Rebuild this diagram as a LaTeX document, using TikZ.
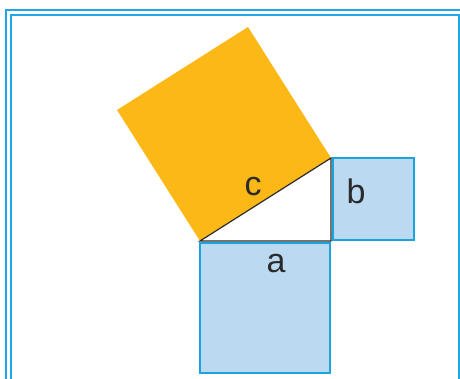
\documentclass[tikz,border=0pt]{standalone}
\usepackage{fontspec}
\setmainfont{Liberation Sans}
\usetikzlibrary{calc}
\definecolor{squareorange}{HTML}{FBB817}
\definecolor{squarefill}{HTML}{BBDAF2}
\definecolor{squareline}{HTML}{1AA3DD}
\definecolor{frameline}{HTML}{1FA8E3}
\definecolor{legline}{HTML}{2B2B2B}
\tikzset{
  framestyle/.style={draw=frameline, line width=2pt},
  legsquare/.style={fill=squarefill, draw=squareline, line width=2pt},
  sidelabel/.style={inner sep=0pt, text=legline}
}
\begin{document}
\begin{tikzpicture}[x=1pt,y=-1pt]
    \useasboundingbox (0,0) rectangle (460,379);
    \clip (0,0) rectangle (460,379);
    % double frame
    \draw [framestyle] (5.5,10.5) rectangle (475,395);
    \draw [framestyle] (10.5,15.5) rectangle (459,395);
    % triangle corners
    \coordinate (A) at (200,241);
    \coordinate (B) at (331,241);
    \coordinate (C) at (331,158);
    % square on c
    \fill [squareorange] (A) -- (C) -- ($(C)+(-83,-131)$) -- ($(A)+(-83,-131)$) -- cycle;
    % squares on a and b
    \draw [legsquare] (200,243) rectangle (330,373);
    \draw [legsquare] (333,158) rectangle (414,240);
    % triangle
    \draw [fill=white, draw=legline, line width=1.2pt] (A) -- (B) -- (C) -- cycle;
    \node [sidelabel, font=\fontsize{34}{34}\selectfont] (labc) at (253,187) {c};
    \node [sidelabel, font=\fontsize{34}{34}\selectfont] (labb) at (356,191) {b};
    \node [sidelabel, font=\fontsize{34}{34}\selectfont] (laba) at (276,264) {a};
\end{tikzpicture}
\end{document}
